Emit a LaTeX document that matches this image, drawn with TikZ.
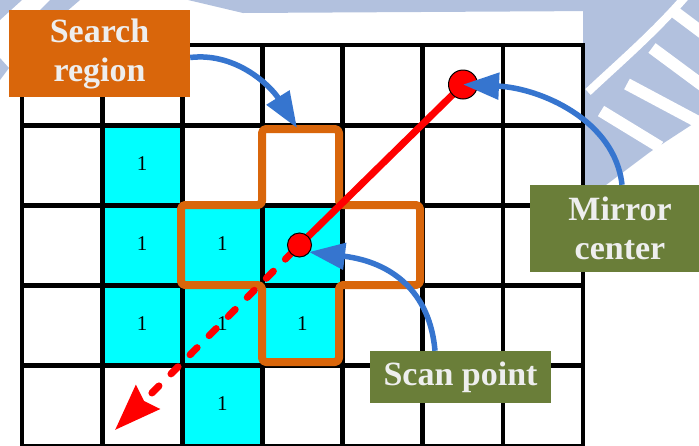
\documentclass[tikz,border=0pt]{standalone}
\usepackage{fontspec}
\setmainfont{Liberation Serif}
\usetikzlibrary{arrows.meta}

\definecolor{cellcyan}{RGB}{0,255,255}
\definecolor{regionorange}{RGB}{217,102,11}
\definecolor{labelgreen}{RGB}{106,126,57}
\definecolor{pointerblue}{RGB}{54,117,207}
\definecolor{logoblue}{RGB}{178,193,222}
\definecolor{labeltext}{RGB}{238,238,238}

\begin{document}
\begin{tikzpicture}[x=1pt,y=-1pt,
  tag/.style={font=\fontsize{34}{39}\selectfont\bfseries, text=labeltext,
    align=center, inner sep=0pt},
  orangetag/.style={tag, fill=regionorange, minimum width=181pt, minimum height=87pt},
  greentag/.style={tag, fill=labelgreen},
  gridline/.style={draw=black, line width=4.8pt, line cap=rect},
  cellnum/.style={font=\fontsize{21}{21}\selectfont, inner sep=0pt},
  regionline/.style={draw=regionorange, line width=8pt, rounded corners=4pt, line join=round},
  ray/.style={draw=red, line width=7pt},
  dot/.style={circle, fill=red, draw=black, line width=1pt, inner sep=0pt},
  pointer/.style={draw=pointerblue, line width=5.5pt,
    -{Triangle[length=36pt,width=26pt]}},
  logo/.style={fill=logoblue},
  logocut/.style={draw=white}
]
\useasboundingbox (0,0) rectangle (699,445);
\clip (0,0) rectangle (699,445);

% faint logo in the background
\fill[logo] (188,0) -- (598,0) -- (598,11) -- (243,13) -- cycle;
\fill[logo] (0,0) -- (22,0) -- (0,20) -- cycle;
\fill[logo] (50,0) -- (80,0) -- (66,12) -- (38,12) -- cycle;
\fill[logo] (0,58) -- (9,68) -- (0,80) -- cycle;
\fill[logo] (583,0) -- (699,0) -- (699,120) -- (650,152) -- (602,188) -- (583,190) -- cycle;
\draw[logocut, line width=8pt] (588,92) .. controls (620,62) and (655,32) .. (686,-4);
\draw[logocut, line width=12pt] (672,10) -- (712,40);
\draw[logocut, line width=12pt] (652,48) -- (706,88);
\draw[logocut, line width=12pt] (627,84) -- (702,124);
\draw[logocut, line width=12pt] (601,111) -- (660,147);

% grid cells
\foreach \c in {0,...,6}
  \foreach \r in {0,...,4}
    \fill[white] (22+\c*80.15,45+\r*80.2) rectangle ++(80.15,80.2);
\foreach \c/\r in {1/1,1/2,2/2,3/2,1/3,2/3,3/3,2/4}
  \fill[cellcyan] (22+\c*80.15,45+\r*80.2) rectangle ++(80.15,80.2);
\foreach \c/\r in {1/1,1/2,2/2,1/3,2/3,3/3,2/4}
  \node[cellnum] (one-\c-\r) at (22+\c*80.15+40,45+\r*80.2+38) {1};

% grid lines
\foreach \i in {0,...,7}
  \draw[gridline] (22+\i*80.15,45) -- (22+\i*80.15,446);
\foreach \j in {0,...,5}
  \draw[gridline] (22,45+\j*80.2) -- (583.05,45+\j*80.2);

% search region outline
\draw[regionline] (262,205) -- (262,129) -- (339,129) -- (339,205) -- (420,205)
  -- (420,285) -- (339,285) -- (339,362) -- (262,362) -- (262,285) -- (181,285)
  -- (181,205) -- cycle;

% mirror ray
\coordinate (mc) at (463,84.5);
\coordinate (sp) at (299.5,245);
\coordinate (rt) at (115,430);
\draw[ray] (mc) -- (sp);
\draw[ray, line cap=round, dash pattern=on 10pt off 17pt, dash phase=-10pt,
  -{Stealth[length=46pt,width=33pt,inset=5pt]}] (sp) -- (rt);
\node[dot, minimum size=29pt] (mcdot) at (mc) {};
\node[dot, minimum size=24pt] (spdot) at (sp) {};

% labels
\node[orangetag] (sr) at (99.5,53.5) {Search\\region};
\node[greentag, minimum width=180pt, minimum height=87pt] (mcbox) at (620,228.5) {Mirror\\center};
\node[greentag, minimum width=181pt, minimum height=52pt] (spbox) at (460.5,377) {Scan point};

% pointers
\coordinate (srtarget) at (297,128);
\coordinate (sptarget) at (309,252);
\draw[pointer] ([yshift=-4pt]sr.east) .. controls (238,52) and (272,88) .. (srtarget);
\draw[pointer] ([xshift=2pt]mcbox.north) .. controls (615,120) and (540,88) .. (mcdot.center);
\draw[pointer] ([xshift=-25.5pt]spbox.north) .. controls (430,292) and (392,262) .. (sptarget);
\end{tikzpicture}
\end{document}
